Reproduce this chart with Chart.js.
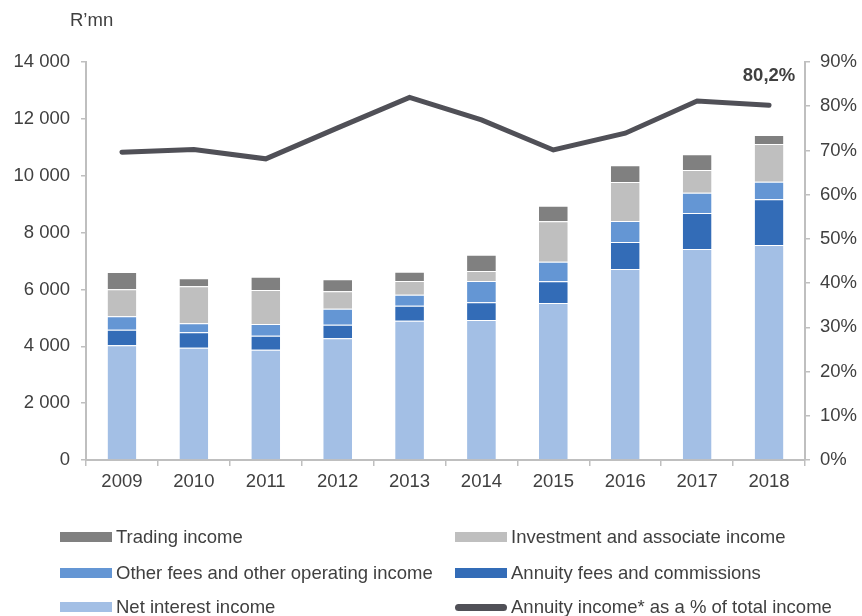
<!DOCTYPE html>
<html>
<head>
<meta charset="utf-8">
<script src="https://cdn.jsdelivr.net/npm/chart.js@4"></script>
<style>
  html, body { margin: 0; padding: 0; background: #fff; }
  #wrap { position: relative; width: 862px; height: 616px; font-family: "Liberation Sans", Arial, sans-serif; color: #404040; }
  #c { position: absolute; left: 0; top: 0; }
  .unit { position: absolute; left: 70px; top: 9px; font-size: 18.5px; line-height: 22px; }
  .lg { position: absolute; font-size: 18.5px; line-height: 22px; white-space: nowrap; }
  .sw { position: absolute; }
</style>
</head>
<body>
<div id="wrap">
  <canvas id="c" width="862" height="616"></canvas>
  <div class="unit">R’mn</div>
  <div id="legend"></div>
</div>
<script>
const categories = ["2009","2010","2011","2012","2013","2014","2015","2016","2017","2018"];
const netInterestIncome = [4034, 3950, 3880, 4280, 4900, 4924, 5522, 6718, 7422, 7562];
const annuityFees       = [550, 544, 493, 480, 528, 622, 762, 950, 1266, 1606];
const otherFees         = [470, 316, 411, 563, 387, 750, 693, 738, 714, 622];
const investmentIncome  = [950, 1298, 1196, 609, 481, 352, 1420, 1372, 798, 1325];
const tradingIncome     = [610, 282, 469, 423, 328, 574, 549, 586, 551, 317];
const annuityPct        = [69.6, 70.2, 68.1, 75.1, 82.0, 76.9, 70.1, 73.9, 81.2, 80.2];
const leftTicks  = [0, 2000, 4000, 6000, 8000, 10000, 12000, 14000];
const rightTicks = [0, 10, 20, 30, 40, 50, 60, 70, 80, 90];
const lastLabel = "80,2%";

const colors = {
  nii: "#a3bfe5", ann: "#336cb7", oth: "#6496d4", inv: "#bfbfbf", trd: "#808080", line: "#505057"
};
const FONT = "'Liberation Sans', Arial, sans-serif";
const FS = 18.5;
const TXT = "#404040";
const AX = "#bfbfbf";

function barDs(label, data, color) {
  return { type: "bar", label, data, backgroundColor: color, borderColor: "rgba(255,255,255,0.6)", borderWidth: {top: 1, bottom: 0, left: 0, right: 0},
           stack: "s", yAxisID: "y", order: 1, barPercentage: 0.4, categoryPercentage: 1.0 };
}

const labelPlugin = {
  id: "lastLabel",
  afterDatasetsDraw(chart) {
    const meta = chart.getDatasetMeta(5);
    const pt = meta.data[meta.data.length - 1];
    const ctx = chart.ctx;
    ctx.save();
    ctx.font = "bold " + FS + "px " + FONT;
    ctx.fillStyle = TXT;
    ctx.textAlign = "center";
    ctx.textBaseline = "middle";
    ctx.fillText(lastLabel, pt.x, pt.y - 29);
    ctx.restore();
  }
};

const chart = new Chart(document.getElementById("c"), {
  data: {
    labels: categories,
    datasets: [
      barDs("Net interest income", netInterestIncome, colors.nii),
      barDs("Annuity fees and commissions", annuityFees, colors.ann),
      barDs("Other fees and other operating income", otherFees, colors.oth),
      barDs("Investment and associate income", investmentIncome, colors.inv),
      barDs("Trading income", tradingIncome, colors.trd),
      { type: "line", label: "Annuity income* as a % of total income", data: annuityPct, yAxisID: "y1",
        borderColor: colors.line, borderWidth: 5, pointRadius: 0, tension: 0, order: 0,
        borderCapStyle: "round", borderJoinStyle: "miter", fill: false }
    ]
  },
  options: {
    responsive: false,
    animation: false,
    layout: { padding: { top: 62, left: 0, right: 0, bottom: 0 } },
    plugins: { legend: { display: false }, tooltip: { enabled: false } },
    scales: {
      x: {
        stacked: true,
        grid: { display: true, drawOnChartArea: false, drawTicks: true, tickLength: 6, color: AX, offset: true, lineWidth: 1.5 },
        border: { color: AX, width: 2 },
        ticks: { color: TXT, font: { family: FONT, size: FS }, padding: 5 },
        afterFit(s) { s.height = 156; }
      },
      y: {
        stacked: true, position: "left", min: 0, max: 14000,
        afterBuildTicks(s) { s.ticks = leftTicks.map(v => ({ value: v })); },
        grid: { drawOnChartArea: false, drawTicks: true, tickLength: 5, color: AX, lineWidth: 1.5 },
        border: { color: AX, width: 2 },
        ticks: { color: TXT, font: { family: FONT, size: FS }, padding: 11,
                 callback: v => String(v).replace(/\B(?=(\d{3})+(?!\d))/g, " ") },
        afterFit(s) { s.width = 86; }
      },
      y1: {
        stacked: false, position: "right", min: 0, max: 90,
        afterBuildTicks(s) { s.ticks = rightTicks.map(v => ({ value: v })); },
        grid: { drawOnChartArea: false, drawTicks: true, tickLength: 5, color: AX, lineWidth: 1.5 },
        border: { color: AX, width: 2 },
        ticks: { color: TXT, font: { family: FONT, size: FS }, padding: 10, callback: v => v + "%" },
        afterFit(s) { s.width = 57; }
      }
    }
  },
  plugins: [labelPlugin]
});

// Legend (HTML, built from datasets)
const legendLayout = [
  { ds: 4, x: 60, y: 537 }, { ds: 3, x: 455, y: 537 },
  { ds: 2, x: 60, y: 573 }, { ds: 1, x: 455, y: 573 },
  { ds: 0, x: 60, y: 607 }, { ds: 5, x: 455, y: 607 }
];
const lg = document.getElementById("legend");
legendLayout.forEach(item => {
  const d = chart.data.datasets[item.ds];
  const sw = document.createElement("div");
  sw.className = "sw";
  if (d.type === "line") {
    sw.style.cssText = `left:${item.x}px;top:${item.y - 3.5}px;width:52px;height:7px;border-radius:4px;background:${d.borderColor}`;
  } else {
    sw.style.cssText = `left:${item.x}px;top:${item.y - 5}px;width:52px;height:10px;background:${d.backgroundColor}`;
  }
  lg.appendChild(sw);
  const t = document.createElement("div");
  t.className = "lg";
  t.textContent = d.label;
  t.style.left = (item.x + 56) + "px";
  t.style.top = (item.y - 11) + "px";
  lg.appendChild(t);
});
</script>
</body>
</html>
